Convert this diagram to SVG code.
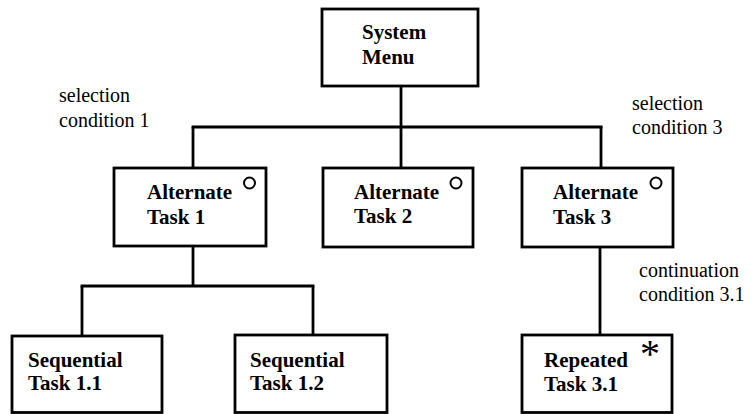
<svg xmlns="http://www.w3.org/2000/svg" width="754" height="414" viewBox="0 0 754 414">
<style>
.box{fill:#fff;stroke:#000;stroke-width:2.8}
.t{font-weight:bold;font-size:21px;fill:#000}
.c{font-size:20px;fill:#000}
.conn line{stroke:#000;stroke-width:2.8}
.mark{fill:none;stroke:#000;stroke-width:2}
</style>
<rect width="754" height="414" fill="#fff"/>
<g id="connectors" class="conn">
<line x1="401" y1="86" x2="401" y2="127"/>
<line x1="191.6" y1="127" x2="602.6" y2="127"/>
<line x1="193" y1="127" x2="193" y2="168"/>
<line x1="401" y1="127" x2="401" y2="168"/>
<line x1="601" y1="127" x2="601" y2="168"/>
<line x1="193" y1="246" x2="193" y2="286"/>
<line x1="80.6" y1="286" x2="314.4" y2="286"/>
<line x1="82" y1="286" x2="82" y2="336"/>
<line x1="313" y1="286" x2="313" y2="336"/>
<line x1="600" y1="247" x2="600" y2="336"/>
</g>
<g font-family="Liberation Serif, Tinos, DejaVu Serif, serif">
<g id="system-menu">
<rect class="box" x="322" y="9" width="156" height="77"/>
<text class="t" x="362" y="39">System</text>
<text class="t" x="362" y="64">Menu</text>
</g>
<g id="alternate-task-1">
<rect class="box" x="114" y="168" width="152" height="78"/>
<text class="t" x="147" y="199">Alternate</text>
<text class="t" x="147" y="224">Task 1</text>
<circle class="mark" cx="249.5" cy="183" r="5.5"/>
</g>
<g id="alternate-task-2">
<rect class="box" x="323" y="168" width="150" height="79"/>
<text class="t" x="354" y="199">Alternate</text>
<text class="t" x="354" y="223">Task 2</text>
<circle class="mark" cx="456" cy="183" r="5.5"/>
</g>
<g id="alternate-task-3">
<rect class="box" x="522" y="168" width="151" height="79"/>
<text class="t" x="553" y="199">Alternate</text>
<text class="t" x="553" y="224">Task 3</text>
<circle class="mark" cx="656" cy="183" r="5.5"/>
</g>
<g id="sequential-task-1-1">
<rect class="box" x="12" y="336" width="150" height="76.5"/>
<text class="t" x="28" y="367">Sequential</text>
<text class="t" x="28" y="390">Task 1.1</text>
</g>
<g id="sequential-task-1-2">
<rect class="box" x="235" y="335" width="152" height="77.5"/>
<text class="t" x="250" y="367">Sequential</text>
<text class="t" x="250" y="390">Task 1.2</text>
</g>
<g id="repeated-task-3-1">
<rect class="box" x="522" y="335" width="150" height="77.5"/>
<text class="t" x="544" y="367">Repeated</text>
<text class="t" x="544" y="391">Task 3.1</text>
<text class="t" x="650" y="367" text-anchor="middle" style="font-size:40px;font-weight:normal">*</text>
</g>
<g id="labels">
<text class="c" x="59" y="102">selection</text>
<text class="c" x="59" y="127">condition 1</text>
<text class="c" x="632" y="110">selection</text>
<text class="c" x="632" y="134">condition 3</text>
<text class="c" x="639" y="277">continuation</text>
<text class="c" x="639" y="301">condition 3.1</text>
</g>
</g>
</svg>
